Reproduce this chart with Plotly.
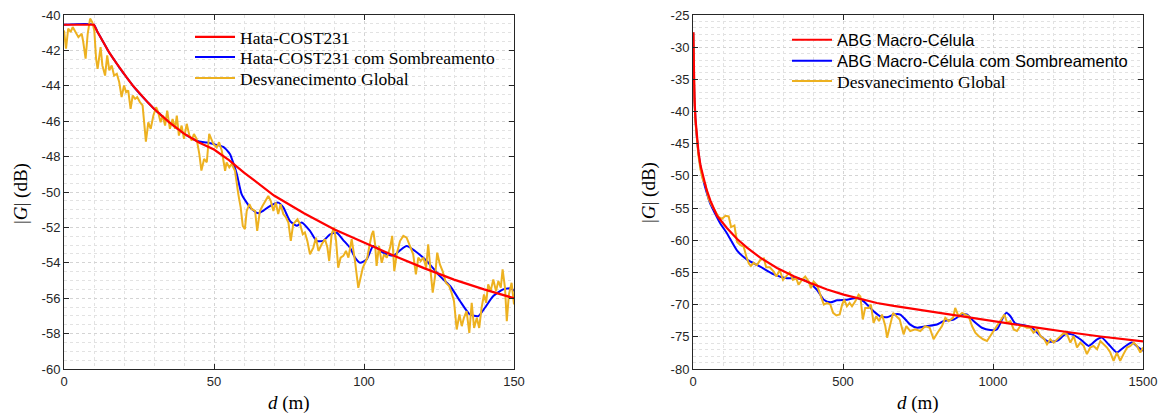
import numpy as np
import plotly.graph_objects as go

W, H = 1164, 415

# ---------------- Left panel: Hata-COST231 (d in m, |G| in dB) ----------------
hata_d = [0, 10, 11, 12, 13, 15, 17, 19, 21, 23, 25, 28, 30, 35, 40, 45, 50, 55, 60,
          70, 80, 90, 100, 110, 120, 130, 140, 150]
hata_g = [-40.55, -40.55, -40.9, -41.2, -41.5, -42.1, -42.6, -43.1, -43.55, -44.0, -44.4,
          -44.95, -45.3, -46.05, -46.7, -47.2, -47.6, -48.2, -48.9,
          -50.2, -51.2, -52.1, -52.85, -53.6, -54.3, -54.95, -55.5, -56.0]

hata_sh_d = [0, 10, 11, 12, 13, 15, 17, 19, 21, 23, 25, 28, 30, 35, 40, 45, 47.6, 50, 53.1,
             55.3, 56.5, 57.6, 59.2, 60.9, 62.5, 64.8, 66.5, 68.1, 71.4, 73.1, 75.3, 77.6,
             79.2, 82, 84.2, 86.4, 88.7, 90.9, 93, 95.3, 97, 98.7, 100.9, 103.1, 106.4,
             109.8, 112, 114.2, 117, 120.9, 123, 125.3, 128.7, 132, 135.3, 138.1, 140.3,
             143.1, 146.4, 149.2, 150]
hata_sh_g = [-40.55, -40.55, -40.9, -41.2, -41.5, -42.1, -42.6, -43.1, -43.55, -44.0, -44.4,
             -44.95, -45.3, -46.05, -46.7, -47.15, -47.2, -47.3, -47.45,
             -47.85, -48.4, -48.99, -50.12, -50.6, -50.95, -51.2, -51.05, -50.85, -50.6,
             -50.87, -51.63, -51.91, -51.72, -52.2, -52.76, -52.76, -52.39, -52.3, -52.7,
             -53.14, -53.7, -54.0, -53.8, -53.05, -53.43, -53.6, -53.3, -53.05, -53.33,
             -53.9, -54.3, -54.75, -55.31, -56.16, -56.92, -57.01, -56.54, -55.88, -55.5,
             -55.45, -55.6]

fade_d = [0, 0.67, 1.4, 2.2, 2.9, 3.7, 4.8, 5.9, 6.4, 7.2, 7.9, 8.7, 9.4, 10.1, 10.7, 11.2,
          11.8, 12.2, 12.8, 13.7, 14.4, 15.1, 15.9, 16.7, 17.6, 18.4, 19.2, 20, 20.7, 21.4,
          22.2, 22.9, 23.7, 24.4, 25.3, 26.2, 27.3, 28.1, 28.9, 29.8, 30.7, 31.4, 32.2, 32.9,
          33.7, 34.4, 35.3, 36.2, 37, 37.6, 38.3, 39.2, 40, 40.9, 41.8, 42.6, 43.3, 44.2,
          45.1, 45.8, 46.7, 47.6, 48.4, 49.8, 50.9, 51.7, 52.6, 53.7, 54.2, 55.1, 55.9, 57,
          58.1, 58.9, 59.6, 60.3, 60.9, 61.8, 62.6, 63.7, 64.4, 65.3, 66.2, 67.3, 68.1, 68.9,
          69.8, 70.6, 71.4, 72.2, 73.1, 74, 74.8, 75.6, 76.4, 77.8, 78.7, 79.6, 80.3, 81.1,
          82, 83.1, 84, 84.8, 85.9, 87, 87.8, 88.4, 89.2, 90, 90.7, 91.4, 92.2, 93.1, 94,
          94.8, 95.9, 97, 98.1, 99.6, 100.3, 101.1, 101.8, 102.6, 103.1, 103.7, 104.2, 105,
          105.9, 106.7, 107.6, 108.7, 109.4, 110.1, 110.9, 112, 113.1, 114.2, 115.3, 116.4,
          117.3, 118.1, 118.9, 119.8, 120.7, 121.4, 122.2, 122.9, 123.7, 124.4, 125.3, 126.2,
          127.3, 128.4, 129.2, 130, 130.9, 131.8, 132.6, 133.3, 134.2, 135.1, 135.9, 136.7,
          137.6, 138.4, 139.2, 140, 140.7, 141.4, 142.2, 143.1, 144, 144.8, 145.6, 146.2,
          147, 147.6, 148.3, 149.2, 150]
fade_g = [-40.87, -41.9, -40.77, -40.96, -40.68, -40.96, -41.25, -41.06, -41.5, -42.47, -41.06,
          -40.2, -40.4, -40.87, -42.47, -43.04, -42.09, -41.81, -42.85, -43.42, -42.28, -43.13,
          -42.85, -43.42, -43.32, -43.79, -44.64, -43.98, -44.36, -44.26, -45.3, -44.55,
          -44.74, -44.64, -44.92, -45.11, -47.15, -46.06, -46.43, -45.68, -45.21, -45.49,
          -46.06, -45.68, -46.25, -45.4, -46.43, -45.87, -46.43, -45.68, -46.81, -46.25,
          -47.0, -46.15, -46.81, -47.09, -46.72, -47.0, -47.85, -48.79, -48.13, -48.32,
          -46.72, -47.29, -47.48, -47.19, -47.67, -48.8, -48.33, -48.61, -48.42, -48.8,
          -50.12, -50.88, -51.92, -52.1, -51.07, -50.69, -50.97, -51.07, -52.2, -51.07,
          -50.78, -50.5, -50.22, -50.5, -51.07, -50.59, -51.25, -50.69, -51.25, -51.44,
          -51.73, -52.76, -51.82, -51.54, -51.82, -52.39, -52.29, -52.76, -53.52, -53.14,
          -52.58, -53.33, -52.95, -52.67, -53.14, -53.9, -52.39, -52.01, -52.76, -54.28,
          -53.71, -53.61, -53.33, -53.71, -52.67, -53.9, -55.41, -54.28, -54.0, -53.71,
          -53.05, -52.39, -52.2, -52.96, -54.18, -53.05, -54.0, -53.52, -53.71, -53.14,
          -52.48, -54.47, -53.52, -52.77, -52.48, -52.58, -53.05, -53.52, -54.65, -53.71,
          -53.9, -53.71, -54.28, -52.96, -54.47, -55.69, -54.75, -53.43, -54.09, -54.47,
          -55.13, -55.32, -55.69, -56.17, -57.77, -56.92, -57.58, -57.11, -56.73, -57.96,
          -56.26, -57.68, -57.11, -57.68, -56.54, -55.79, -56.26, -55.22, -55.6, -54.94,
          -55.6, -55.03, -55.41, -54.37, -55.41, -57.3, -55.79, -55.13, -56.35]

# ---------------- Right panel: ABG macro-cell ----------------
abg_d = [1, 2, 3, 5, 8, 12, 18, 25, 35, 45, 58, 80, 113, 147, 180, 224, 280, 336, 391,
         447, 502, 558, 613, 669, 724, 802, 913, 1024, 1135, 1247, 1358, 1500]
abg_g = [-27.7, -32.2, -34.9, -38.0, -41.0, -43.6, -46.2, -48.4, -50.5, -52.1, -53.85,
         -56.2, -58.1, -59.8, -61.15, -62.7, -64.3, -65.6, -66.65, -67.65, -68.45,
         -69.13, -69.74, -70.2, -70.6, -71.15, -71.9, -72.7, -73.5, -74.25, -74.95, -75.7]

abg_sh_d = [1, 2, 3, 5, 8, 12, 18, 25, 35, 45, 57.8, 74, 91, 113, 147, 180, 224, 269, 313,
            347, 380, 413, 436, 458, 480, 513, 547, 569, 602, 624, 647, 669, 691, 713, 724,
            747, 780, 813, 835, 869, 897, 913, 935, 963, 991, 1013, 1030, 1044, 1058, 1074,
            1102, 1130, 1158, 1185, 1213, 1241, 1263, 1291, 1319, 1347, 1363, 1385, 1413,
            1435, 1463, 1485, 1500]
abg_sh_g = [-27.7, -32.2, -34.9, -38.0, -41.0, -43.6, -46.3, -48.6, -50.8, -52.5, -54.36,
            -55.9, -57.4, -58.9, -61.6, -63.0, -64.1, -65.3, -65.9, -65.9, -66.4, -67.69,
            -69.23, -69.64, -69.33, -69.23, -68.97, -69.49, -71.03, -71.8, -71.95, -71.54,
            -71.54, -72.56, -73.1, -73.59, -73.33, -73.08, -72.56, -72.31, -71.54, -71.54,
            -72.56, -73.59, -73.95, -73.85, -72.31, -71.28, -71.8, -72.92, -73.18, -73.59,
            -74.87, -75.74, -75.64, -74.62, -74.62, -75.38, -76.41, -75.38, -75.13, -76.15,
            -77.44, -76.67, -75.9, -76.67, -77.18]

fade2_d = [1, 2, 3, 5, 8, 12, 18, 25, 33, 41, 52, 63, 74, 86, 97, 108, 119, 127, 138, 147,
           158, 169, 178, 186, 193, 202, 213, 224, 236, 244, 256, 269, 278, 289, 300, 311,
           322, 333, 344, 352, 363, 374, 386, 393, 402, 413, 424, 436, 447, 458, 467, 478,
           489, 497, 504, 513, 522, 530, 541, 552, 558, 566, 574, 586, 593, 602, 611, 620,
           630, 641, 647, 656, 667, 678, 689, 702, 711, 724, 741, 758, 774, 789, 802, 815,
           830, 841, 852, 867, 874, 885, 897, 908, 919, 930, 941, 952, 967, 980, 991, 1004,
           1015, 1024, 1038, 1047, 1058, 1069, 1080, 1091, 1102, 1113, 1124, 1135, 1147,
           1158, 1171, 1180, 1191, 1202, 1213, 1224, 1235, 1247, 1258, 1269, 1280, 1291,
           1302, 1313, 1324, 1335, 1347, 1358, 1369, 1380, 1391, 1402, 1413, 1424, 1435,
           1447, 1458, 1469, 1480, 1491, 1500]
fade2_g = [-27.7, -32.4, -35.2, -38.4, -41.5, -44.2, -46.8, -49.0, -50.6, -51.28, -53.59,
           -54.6, -55.38, -56.41, -56.67, -56.2, -56.3, -57.95, -57.7, -60.26, -60.77, -61.0,
           -62.56, -63.6, -64.0, -63.5, -63.85, -63.08, -62.82, -64.2, -64.2, -64.87, -65.64,
           -64.62, -66.15, -65.64, -65.0, -66.15, -65.9, -66.92, -66.15, -65.64, -66.41,
           -67.44, -66.41, -66.92, -68.46, -70.0, -69.74, -70.0, -71.28, -71.69, -71.54,
           -70.0, -69.23, -70.26, -69.74, -70.26, -69.49, -68.46, -68.72, -72.31, -70.51,
           -70.51, -70.0, -72.82, -71.8, -72.56, -71.54, -73.33, -75.13, -73.59, -71.28,
           -71.8, -72.31, -74.62, -73.33, -74.1, -73.85, -74.1, -73.33, -73.59, -75.38,
           -74.36, -73.33, -72.05, -72.56, -72.05, -70.51, -71.8, -71.28, -71.54, -71.8,
           -73.33, -74.36, -74.87, -75.38, -75.64, -74.87, -74.1, -73.33, -72.56, -71.54,
           -72.82, -72.56, -73.85, -74.1, -73.33, -73.33, -73.59, -73.59, -74.36, -73.85,
           -74.87, -75.38, -76.15, -75.38, -75.9, -75.38, -74.87, -74.46, -74.62, -75.9,
           -74.87, -76.67, -75.9, -76.41, -77.69, -76.67, -76.41, -76.92, -75.64, -76.15,
           -76.67, -77.44, -78.72, -77.44, -78.72, -77.69, -76.67, -76.41, -75.9, -76.41,
           -77.44, -76.67]

# Tick labels (plain hyphen minus, as printed on the axes)
left_xticks = [0, 50, 100, 150]
left_yticks = list(range(-60, -39, 2))
right_xticks = [0, 500, 1000, 1500]
right_yticks = list(range(-80, -24, 5))

RED, BLUE, GOLD = "#FF0000", "#0000FF", "#EDB120"
INK = "#262626"
SANS = "Liberation Sans, Arial, sans-serif"
SERIF = "Liberation Serif, DejaVu Serif, serif"


def px_x(p):
    return p / W


def px_y(p):
    return 1 - p / H


fig = go.Figure()

# drawing order: shadowed curve, then global fading, then the mean path-loss on top;
# every entry gets its own one-item legend so the rows can be spaced freely
fig.add_trace(go.Scatter(x=hata_sh_d, y=hata_sh_g, mode="lines",
                         line=dict(color=BLUE, width=2, shape="spline", smoothing=0.6),
                         name="Hata-COST231 com Sombreamento", legend="legend2", xaxis="x", yaxis="y"))
fig.add_trace(go.Scatter(x=fade_d, y=fade_g, mode="lines", line=dict(color=GOLD, width=2),
                         name="Desvanecimento Global", legend="legend3", xaxis="x", yaxis="y"))
fig.add_trace(go.Scatter(x=hata_d, y=hata_g, mode="lines", line=dict(color=RED, width=2.2),
                         name="Hata-COST231", legend="legend", xaxis="x", yaxis="y"))

fig.add_trace(go.Scatter(x=abg_sh_d, y=abg_sh_g, mode="lines",
                         line=dict(color=BLUE, width=2, shape="spline", smoothing=0.6),
                         name="ABG Macro-Célula com Sombreamento", legend="legend5", xaxis="x2", yaxis="y2"))
fig.add_trace(go.Scatter(x=fade2_d, y=fade2_g, mode="lines", line=dict(color=GOLD, width=2),
                         name="Desvanecimento Global", legend="legend6", xaxis="x2", yaxis="y2"))
fig.add_trace(go.Scatter(x=abg_d, y=abg_g, mode="lines", line=dict(color=RED, width=2.2),
                         name="ABG Macro-Célula", legend="legend4", xaxis="x2", yaxis="y2"))


def axis_style(domain, rng, ticks, minor_step, anchor):
    lo, hi = rng
    minor_vals = list(np.arange(lo, hi + minor_step / 2, minor_step))
    return dict(
        domain=domain, range=rng, anchor=anchor, automargin=False,
        tickmode="array", tickvals=ticks, ticktext=[str(t) for t in ticks],
        ticks="inside", ticklen=5, tickwidth=1, tickcolor=INK,
        showline=True, linecolor=INK, linewidth=1, mirror="ticks",
        showgrid=True, gridcolor="#d4d4d4", griddash="dot", gridwidth=1,
        minor=dict(tickmode="array", tickvals=minor_vals, showgrid=True,
                   gridcolor="#e2e2e2", griddash="dot", gridwidth=1, ticks=""),
        zeroline=False, tickfont=dict(family=SANS, size=13, color=INK),
        fixedrange=True,
    )


def one_legend(x_px, y_px, family, size):
    return dict(x=px_x(x_px), y=px_y(y_px), xanchor="left", yanchor="middle",
                bgcolor="rgba(0,0,0,0)", borderwidth=0, itemwidth=40,
                font=dict(family=family, size=size, color="black"))


yd = [px_y(369), px_y(15)]
fig.update_layout(
    width=W, height=H,
    template="none",
    margin=dict(l=0, r=0, t=0, b=0, autoexpand=False),
    paper_bgcolor="white", plot_bgcolor="white",
    xaxis=axis_style([px_x(64), px_x(514)], [0, 150], left_xticks, 10, "y"),
    yaxis=axis_style(yd, [-60, -40], left_yticks, 0.5, "x"),
    xaxis2=axis_style([px_x(693), px_x(1143)], [0, 1500], right_xticks, 100, "y2"),
    yaxis2=axis_style(yd, [-80, -25], right_yticks, 1, "x2"),
    legend=one_legend(190, 37, SERIF, 17.5),
    legend2=one_legend(190, 57, SERIF, 17.5),
    legend3=one_legend(190, 78, SERIF, 17.5),
    legend4=one_legend(787, 40, SANS, 16.5),
    legend5=one_legend(787, 61, SANS, 16.5),
    legend6=one_legend(787, 81, SERIF, 17.5),
    showlegend=True,
)

# axis titles (LaTeX-like serif)
titles = [
    dict(text="<i>d</i> (m)", x=px_x(289), y=px_y(403), textangle=0),
    dict(text="<i>d</i> (m)", x=px_x(918), y=px_y(403), textangle=0),
    dict(text="|<i>G</i>| (dB)", x=px_x(21), y=px_y(193), textangle=-90),
    dict(text="|<i>G</i>| (dB)", x=px_x(649), y=px_y(193), textangle=-90),
]
for t in titles:
    fig.add_annotation(xref="paper", yref="paper", x=t["x"], y=t["y"], text=t["text"],
                       textangle=t["textangle"], showarrow=False, xanchor="center", yanchor="middle",
                       font=dict(family=SERIF, size=19, color="black"))

fig.write_html("out.html")
